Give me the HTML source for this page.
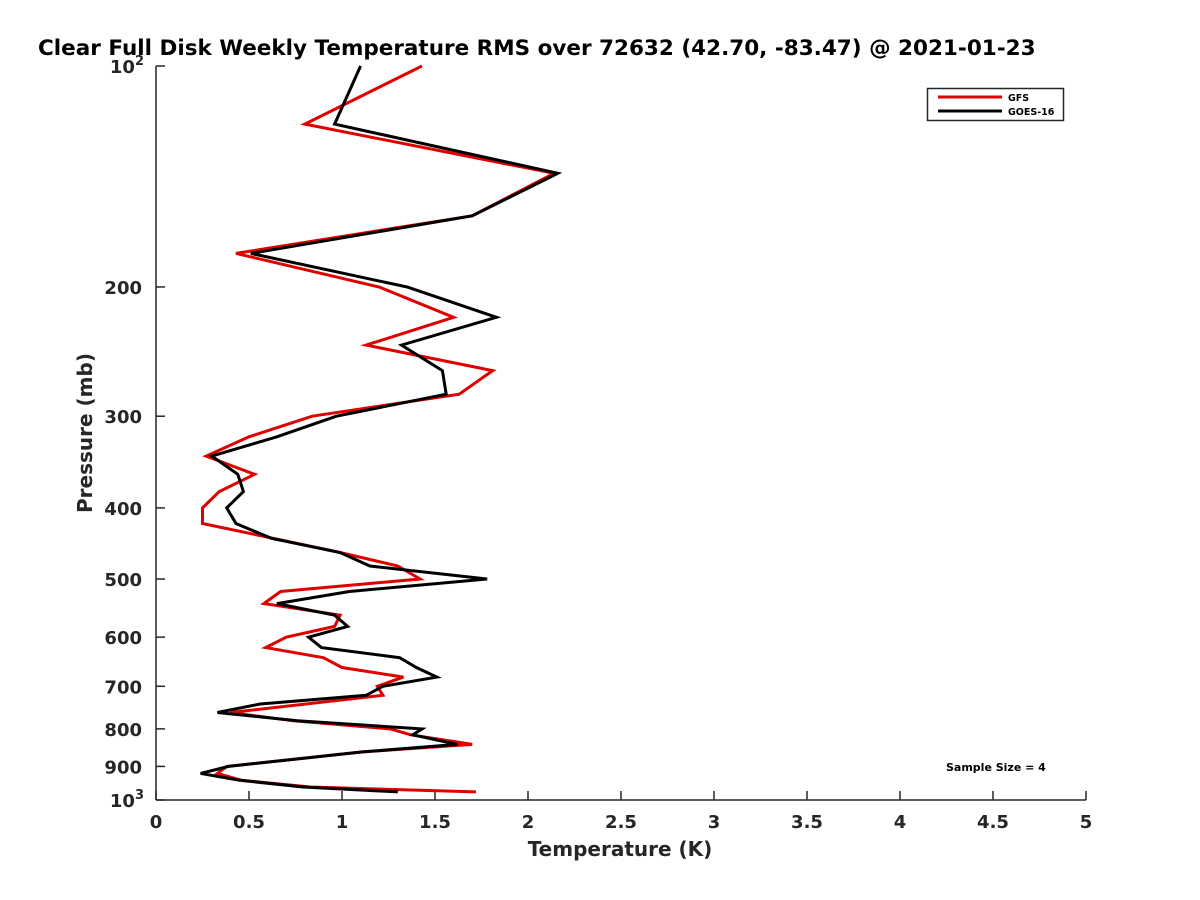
<!DOCTYPE html>
<html><head><meta charset="utf-8"><style>
html,body{margin:0;padding:0;background:#fff;}
svg{display:block;font-family:"DejaVu Sans","Liberation Sans",sans-serif;}
</style></head><body>
<svg id="chart" width="1200" height="900" viewBox="0 0 1200 900">
<text x="38" y="55" font-size="21.5" font-weight="bold" fill="#000">Clear Full Disk Weekly Temperature RMS over 72632 (42.70, -83.47) @ 2021-01-23</text>
<g id="axes"></g>
<g id="series"></g>
<g>
<rect x="927.5" y="88.5" width="136" height="32" fill="#fff" stroke="#262626" stroke-width="1.5"/>
<line x1="938" y1="97" x2="1002" y2="97" stroke="#e00000" stroke-width="3"/>
<text x="1008" y="101" font-size="9.5" font-weight="bold" fill="#000">GFS</text>
<line x1="938" y1="111" x2="1002" y2="111" stroke="#000" stroke-width="3"/>
<text x="1008" y="115" font-size="9.5" font-weight="bold" fill="#000">GOES-16</text>
</g>
<text x="946" y="771" font-size="11" font-weight="bold" fill="#000">Sample Size = 4</text>
<text x="620" y="856" font-size="20" font-weight="bold" fill="#262626" text-anchor="middle">Temperature (K)</text>
<text transform="translate(92,433) rotate(-90)" font-size="20" font-weight="bold" fill="#262626" text-anchor="middle">Pressure (mb)</text>
</svg>
<script>
const xTicks = [0,0.5,1,1.5,2,2.5,3,3.5,4,4.5,5];
const xTickLabels = ["0","0.5","1","1.5","2","2.5","3","3.5","4","4.5","5"];
const yTicks = [100,200,300,400,500,600,700,800,900,1000];
const yTickLabels = ["10|2","200","300","400","500","600","700","800","900","10|3"];
const gfsPressure = [100,120,140,160,180,200,220,240,260,280,300,320,340,360,380,400,420,440,460,480,500,520,540,560,580,600,620,640,660,680,700,720,760,780,800,815,840,860,900,920,940,960,975];
const gfsTemp = [1.43,0.80,2.14,1.70,0.43,1.20,1.60,1.13,1.81,1.63,0.84,0.50,0.27,0.53,0.34,0.25,0.25,0.63,0.99,1.30,1.42,0.67,0.58,0.99,0.96,0.70,0.59,0.90,1.00,1.33,1.19,1.22,0.40,0.74,1.26,1.37,1.70,1.11,0.38,0.33,0.46,0.83,1.72];
const goesPressure = [100,120,140,160,180,200,220,240,260,280,300,320,340,360,380,400,420,440,460,480,500,520,540,560,580,600,620,640,660,680,700,720,740,760,780,800,815,840,860,900,920,940,960,975];
const goesTemp = [1.10,0.96,2.16,1.70,0.51,1.35,1.83,1.32,1.54,1.56,0.97,0.65,0.30,0.44,0.47,0.38,0.43,0.62,0.99,1.15,1.78,1.04,0.65,0.96,1.03,0.82,0.89,1.31,1.40,1.51,1.22,1.13,0.56,0.33,0.76,1.43,1.38,1.62,1.11,0.39,0.24,0.45,0.79,1.30];

const L=156,R=1086,T=66,B=800;
function xs(v){return L+(v-0)/(5-0)*(R-L);}
function ys(p){return T+(Math.log10(p)-2)*(B-T);}
const NS="http://www.w3.org/2000/svg";
function mk(tag,attrs,parent){const e=document.createElementNS(NS,tag);for(const k in attrs)e.setAttribute(k,attrs[k]);parent.appendChild(e);return e;}
const axes=document.getElementById('axes');
const ser=document.getElementById('series');
let a=mk('line',{x1:L,y1:B,x2:R,y2:B,stroke:'#262626','stroke-width':1.5},axes);


a=mk('line',{x1:L,y1:T,x2:L,y2:B,stroke:'#262626','stroke-width':1.5},axes);


xTicks.forEach((v,i)=>{
  const x=xs(v);
  const t=mk('line',{x1:x,y1:B,x2:x,y2:B-9,stroke:'#262626','stroke-width':1.5},axes);
  
  
  const tx=mk('text',{x:x,y:B+28,'font-size':18,'font-weight':'bold',fill:'#262626','text-anchor':'middle'},axes);
  tx.textContent=xTickLabels[i];
  
  
});
yTicks.forEach((p,i)=>{
  const y=ys(p);
  const t=mk('line',{x1:L,y1:y,x2:L+9,y2:y,stroke:'#262626','stroke-width':1.5},axes);
  
  
  const lab=yTickLabels[i];
  if(lab.indexOf('|')>=0){
    const parts=lab.split('|');
    const tx=mk('text',{x:L-12,y:y+7,'font-size':18,'font-weight':'bold',fill:'#262626','text-anchor':'end'},axes);
    const s1=mk('tspan',{},tx); s1.textContent=parts[0];
    const s2=mk('tspan',{dy:-8,'font-size':13},tx); s2.textContent=parts[1];
    
    
  } else {
    const tx=mk('text',{x:L-14,y:y+7,'font-size':18,'font-weight':'bold',fill:'#262626','text-anchor':'end'},axes);
    tx.textContent=lab;
    
    
  }
});
function drawLine(P,Tv,color,name){
  const pts=P.map((p,i)=>xs(Tv[i]).toFixed(1)+','+ys(p).toFixed(1)).join(' ');
  const pl=mk('polyline',{points:pts,fill:'none',stroke:color,'stroke-width':3,'stroke-linejoin':'miter'},ser);
  
  
}
drawLine(gfsPressure,gfsTemp,'#e00000','gfs-line');
drawLine(goesPressure,goesTemp,'#000000','goes16-line');
</script>
</body></html>
